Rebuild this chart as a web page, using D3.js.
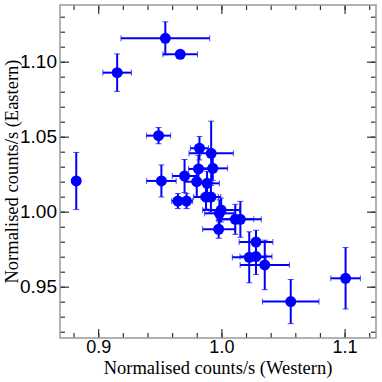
<!DOCTYPE html>
<html>
<head>
<meta charset="utf-8">
<script src="https://cdn.jsdelivr.net/npm/d3@7"></script>
<style>
  body { margin: 0; background: #fff; }
  svg { display: block; }
</style>
</head>
<body>
<div id="chart"></div>
<script>
// normalised count rates, western vs eastern
const western = [0.9545, 0.9666, 0.9154, 0.9490, 0.8822, 0.9513, 0.9822, 0.9917, 0.9814, 0.9930,
                 0.9701, 0.9800, 0.9884, 0.9647, 0.9717, 0.9875, 0.9915, 0.9998, 0.9984, 1.0113,
                 1.0154, 0.9978, 1.0281, 1.0226, 1.0281, 1.0352, 1.0563, 1.1008];
const eastern = [1.1156, 1.1049, 1.0927, 1.0507, 1.0205, 1.0205, 1.0423, 1.0389, 1.0285, 1.0289,
                 1.0238, 1.0200, 1.0189, 1.0071, 1.0071, 1.0098, 1.0098, 1.0011, 0.9989, 0.9949,
                 0.9949, 0.9883, 0.9798, 0.9696, 0.9701, 0.9645, 0.9401, 0.9556];
const westernErr = [0.036, 0.014, 0.0116, 0.0098, 0.001, 0.012, 0.0073, 0.018, 0.008, 0.012,
                    0.01, 0.01, 0.01, 0.005, 0.005, 0.01, 0.008, 0.015, 0.012, 0.015,
                    0.017, 0.013, 0.0137, 0.0137, 0.013, 0.020, 0.0229, 0.012];
const easternErr = [0.011, 0.0013, 0.0125, 0.0054, 0.019, 0.0107, 0.0078, 0.0215, 0.009, 0.008,
                    0.011, 0.01, 0.008, 0.005, 0.005, 0.008, 0.01, 0.008, 0.009, 0.01,
                    0.012, 0.006, 0.0078, 0.017, 0.012, 0.0165, 0.0147, 0.0205];
const xTicks = [0.9, 1.0, 1.1];
const yTicks = [0.95, 1.00, 1.05, 1.10];

const w = 382, h = 382;
const margin = {left: 60, right: 6, top: 5, bottom: 44};

const data = western.map((x, i) => ({x: x, y: eastern[i], ex: westernErr[i], ey: easternErr[i]}));

const xScale = d3.scaleLinear()
    .domain([0.869, 1.1255])
    .range([margin.left, w - margin.right]);

const yScale = d3.scaleLinear()
    .domain([0.9158, 1.1378])
    .range([h - margin.bottom, margin.top]);

const svg = d3.select("#chart")
    .append("svg")
    .attr("width", w)
    .attr("height", h)
    .style("font-family", "'Liberation Serif', 'Times New Roman', serif");

const plotW = w - margin.left - margin.right;
const plotH = h - margin.top - margin.bottom;

// minor ticks every 0.02 on x, 0.01 on y
const xMinor = d3.range(0.88, 1.125, 0.02).map(d => +d.toFixed(2));
const yMinor = d3.range(0.92, 1.14, 0.01).map(d => +d.toFixed(2));

function tickAxes(g, axisFn, scale, major, minor, fmt) {
    g.call(axisFn(scale).tickValues(minor).tickSize(-5).tickFormat(""));
    g.call(gg => gg.select(".domain").remove());
    const maj = g.append("g").call(axisFn(scale).tickValues(major).tickSize(-9).tickFormat(fmt));
    maj.select(".domain").remove();
    g.selectAll("line").attr("stroke", "#333").attr("stroke-width", 1.2);
    return maj;
}

// bottom
const gx = svg.append("g").attr("transform", `translate(0,${h - margin.bottom})`);
const gxMaj = tickAxes(gx, d3.axisBottom, xScale, xTicks, xMinor, d3.format(".1f"));
gxMaj.selectAll("text")
    .attr("y", 2)
    .attr("dy", "0.71em")
    .attr("font-size", "18px")
    .attr("fill", "#000");

// top
const gxt = svg.append("g").attr("transform", `translate(0,${margin.top})`);
tickAxes(gxt, d3.axisTop, xScale, xTicks, xMinor, "").selectAll("text").remove();

// left
const gy = svg.append("g").attr("transform", `translate(${margin.left},0)`);
const gyMaj = tickAxes(gy, d3.axisLeft, yScale, yTicks, yMinor, d3.format(".2f"));
gyMaj.selectAll("text")
    .attr("x", -3)
    .attr("font-size", "19px")
    .attr("fill", "#000");

// right
const gyr = svg.append("g").attr("transform", `translate(${w - margin.right},0)`);
tickAxes(gyr, d3.axisRight, yScale, yTicks, yMinor, "").selectAll("text").remove();

// frame
svg.append("rect")
    .attr("x", margin.left)
    .attr("y", margin.top)
    .attr("width", plotW)
    .attr("height", plotH)
    .attr("fill", "none")
    .attr("stroke", "#999")
    .attr("stroke-width", 1.5);

// error bars
const cap = 3;
const pts = svg.append("g").attr("class", "points");
const eb = pts.selectAll(".err")
    .data(data)
    .enter()
    .append("g")
    .attr("class", "err")
    .attr("stroke", "#0000ff");

eb.append("line")
    .attr("x1", d => xScale(d.x - d.ex))
    .attr("x2", d => xScale(d.x + d.ex))
    .attr("y1", d => yScale(d.y))
    .attr("y2", d => yScale(d.y))
    .attr("stroke-width", 2);
eb.append("line")
    .attr("x1", d => xScale(d.x))
    .attr("x2", d => xScale(d.x))
    .attr("y1", d => yScale(d.y - d.ey))
    .attr("y2", d => yScale(d.y + d.ey))
    .attr("stroke-width", 2);
// caps
[-1, 1].forEach(s => {
    eb.append("line")
        .attr("x1", d => xScale(d.x + s * d.ex))
        .attr("x2", d => xScale(d.x + s * d.ex))
        .attr("y1", d => yScale(d.y) - cap)
        .attr("y2", d => yScale(d.y) + cap)
        .attr("stroke-width", 1)
        .attr("stroke-opacity", 0.7);
    eb.append("line")
        .attr("x1", d => xScale(d.x) - cap)
        .attr("x2", d => xScale(d.x) + cap)
        .attr("y1", d => yScale(d.y + s * d.ey))
        .attr("y2", d => yScale(d.y + s * d.ey))
        .attr("stroke-width", 1)
        .attr("stroke-opacity", 0.7);
});

pts.selectAll("circle")
    .data(data)
    .enter()
    .append("circle")
    .attr("cx", d => xScale(d.x))
    .attr("cy", d => yScale(d.y))
    .attr("r", 5.5)
    .attr("fill", "#0000ff");

// axis titles
svg.append("text")
    .attr("x", margin.left + plotW / 2)
    .attr("y", 374)
    .attr("text-anchor", "middle")
    .attr("font-size", "18.5px")
    .text("Normalised counts/s (Western)");

svg.append("text")
    .attr("transform", `translate(18,${margin.top + plotH / 2}) rotate(-90)`)
    .attr("text-anchor", "middle")
    .attr("font-size", "18.5px")
    .text("Normalised counts/s (Eastern)");
</script>
</body>
</html>
